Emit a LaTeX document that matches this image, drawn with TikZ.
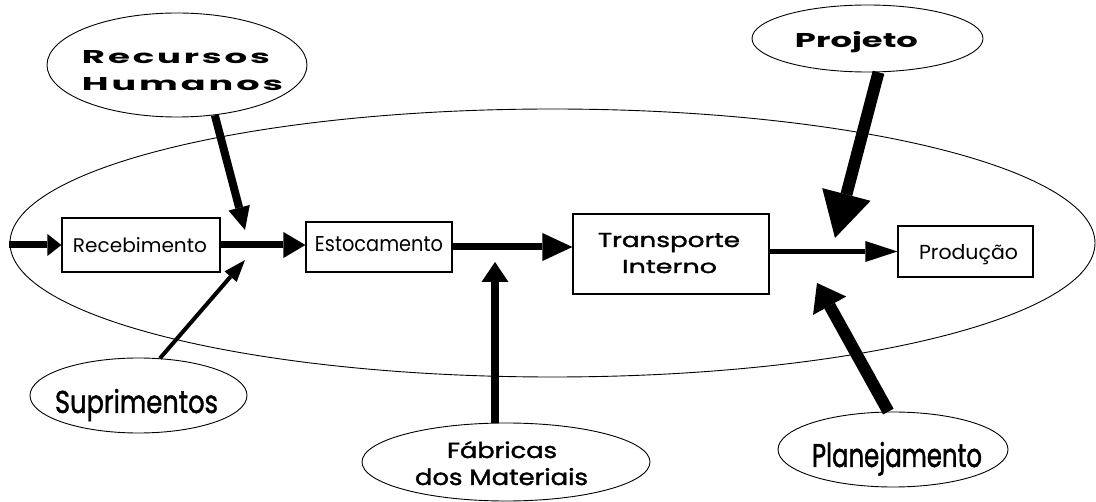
\documentclass[tikz,border=0pt]{standalone}
\usepackage{fontspec}
\setmainfont{Poppins}
\newfontfamily\popmed[FakeBold=1.5]{Poppins}
\usepackage{graphicx}
\usetikzlibrary{shapes.geometric,arrows.meta}
\newcommand{\fitt}[3]{\resizebox{#1pt}{#2pt}{#3}}
\begin{document}
\begin{tikzpicture}[x=1pt,y=-1pt,
  oval/.style={draw, ellipse, line width=0.9pt, inner sep=0pt},
  box/.style={draw, rectangle, line width=1.2pt, inner sep=0pt, fill=white},
  txt/.style={inner sep=0pt, anchor=base},
  arr/.style n args={3}{line width=#1pt, -{Triangle[length=#2pt,width=#3pt,line width=0pt]}}]
\useasboundingbox (0,0) rectangle (1096,502);
% big process ellipse
\node[oval, minimum width=1085, minimum height=268] (big) at (552.5,243) {};
% process boxes
\node[box, minimum width=158, minimum height=54] (rec) at (141,245) {};
\node[box, minimum width=146, minimum height=50] (est) at (379,247) {};
\node[box, minimum width=196, minimum height=80] (tra) at (671,254) {};
\node[box, minimum width=135, minimum height=51] (pro) at (965.5,251.5) {};
% input ellipses
\node[oval, minimum width=260, minimum height=104] (rh) at (177,65) {};
\node[oval, minimum width=217, minimum height=75] (sup) at (138.5,395.5) {};
\node[oval, minimum width=288, minimum height=78] (fab) at (506,462) {};
\node[oval, minimum width=231, minimum height=67] (proj) at (867.5,38.5) {};
\node[oval, minimum width=230, minimum height=75] (plan) at (893,449.5) {};
% texts
\node[txt] (recT) at (140,253) {\fitt{134}{15}{Recebimento}};
\node[txt] (estT) at (379,252) {\fitt{128}{15}{Estocamento}};
\node[txt] (traT1) at (669,247) {\popmed\fitt{142}{14}{Transporte}};
\node[txt] (traT2) at (669.5,273) {\popmed\fitt{95}{13}{Interno}};
\node[txt] (proT) at (968.5,260) {\fitt{99}{15}{Produção}};
\node[txt] (rhT1) at (176,64) {\bfseries\addfontfeature{LetterSpace=8}\fitt{188}{13}{Recursos}};
\node[txt] (rhT2) at (182.5,91) {\bfseries\addfontfeature{LetterSpace=8}\fitt{201}{13}{Humanos}};
\node[txt] (supT) at (136.5,413) {\popmed\fitt{163}{24}{Suprimentos}};
\node[txt] (fabT1) at (502,458) {\popmed\fitt{110}{17}{Fábricas}};
\node[txt] (fabT2) at (501.5,485) {\popmed\fitt{173}{17}{dos Materiais}};
\node[txt] (projT) at (856.5,48) {\bfseries\fitt{123}{16}{Projeto}};
\node[txt] (planT) at (897,467) {\popmed\fitt{170}{25}{Planejamento}};
% flow arrows
\coordinate (inS) at (9,245);
\draw[arr={7}{14}{22}] (inS) -- (rec.west);
\draw[arr={7}{22}{26}] (rec.east) -- (rec.east -| est.west);
\draw[arr={7}{30}{28}] (est.east) -- (est.east -| tra.west);
\draw[arr={5}{32}{21}] (tra.east |- pro.west) -- (pro.west);
% influence arrows
\coordinate (rhTip) at (245,230);
\draw[arr={8}{23}{22}] (rh.-53) -- (rhTip);
\coordinate (supTip) at (245,260);
\draw[arr={4}{22}{16}] (sup.60) -- (supTip);
\coordinate (fabTip) at (495,262);
\draw[arr={8}{20}{27}] (fabTip |- fab.north) -- (fabTip);
\coordinate (projTip) at (835,238);
\draw[arr={12}{45}{50}] (proj.-72) -- (projTip);
\coordinate (planTip) at (817,283);
\draw[arr={12}{26}{38}] (plan.97) -- (planTip);
\end{tikzpicture}
\end{document}
